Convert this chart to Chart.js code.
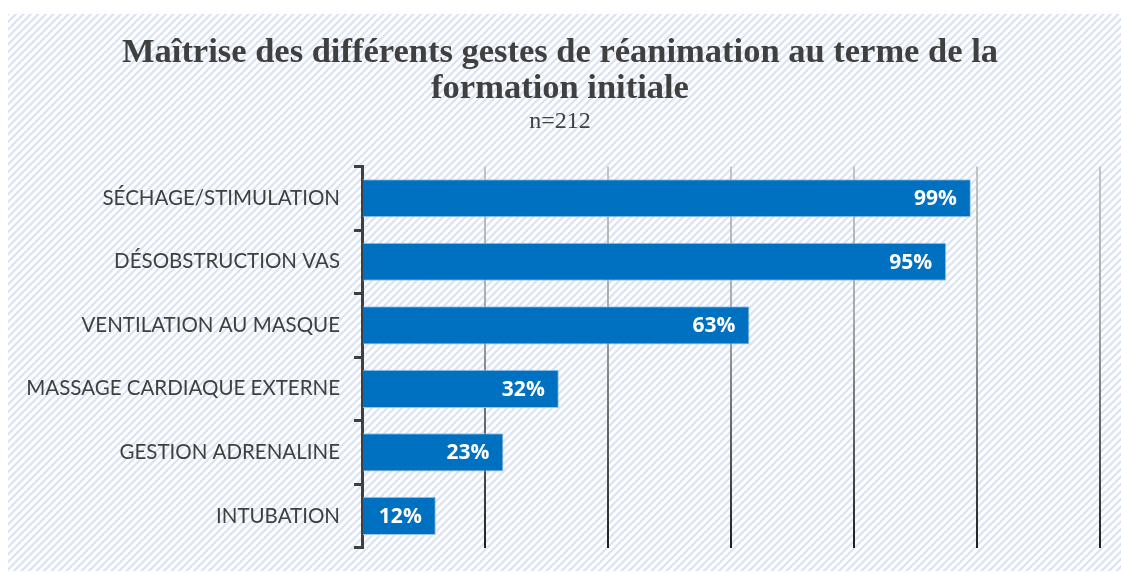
<!DOCTYPE html>
<html>
<head>
<meta charset="utf-8">
<script src="https://cdn.jsdelivr.net/npm/chart.js@4"></script>
<style>
  html, body { margin: 0; padding: 0; background: #fff; }
  #wrap { width: 1121px; height: 574px; }
</style>
</head>
<body>
<div id="wrap"><canvas id="myChart"></canvas></div>
<script>
const categories = [
  "SÉCHAGE/STIMULATION",
  "DÉSOBSTRUCTION VAS",
  "VENTILATION AU MASQUE",
  "MASSAGE CARDIAQUE EXTERNE",
  "GESTION ADRENALINE",
  "INTUBATION",
];
const values = [99, 95, 63, 32, 23, 12];
const titleLines = ["Maîtrise des différents gestes de réanimation au terme de la", "formation initiale"];
const subtitleText = "n=212";

// fond hachuré derrière tout le graphique
const hatchPlugin = {
  id: "hatch",
  beforeDraw(chart) {
    const c = chart.ctx;
    c.save();
    c.fillStyle = "#ffffff";
    c.fillRect(0, 0, chart.width, chart.height);
    c.beginPath();
    c.rect(8, 14, chart.width - 8, chart.height - 17);
    c.clip();
    c.strokeStyle = "#dae3f4";
    c.lineWidth = 2.2;
    for (let x = -chart.height; x < chart.width + chart.height; x += 7.5) {
      c.beginPath();
      c.moveTo(x, chart.height);
      c.lineTo(x + chart.height, 0);
      c.stroke();
    }
    c.restore();
  },
};

// étiquettes blanches dans les barres
const labelPlugin = {
  id: "barLabels",
  afterDatasetsDraw(chart) {
    const c = chart.ctx;
    const meta = chart.getDatasetMeta(0);
    c.save();
    c.fillStyle = "#ffffff";
    c.font = "bold 21px 'Open Sans', sans-serif";
    c.textAlign = "right";
    c.textBaseline = "middle";
    meta.data.forEach((bar, i) => {
      c.fillText(values[i] + "%", bar.x - 14, bar.y + 1);
    });
    c.restore();
  },
};

const ctx = document.getElementById("myChart");

new Chart(ctx, {
  type: "bar",
  data: {
    labels: categories,
    datasets: [
      {
        data: values,
        backgroundColor: "#0070c0",
        borderColor: "#9dc3e6",
        borderWidth: 1,
        categoryPercentage: 1,
        barPercentage: 0.6,
      },
    ],
  },
  plugins: [hatchPlugin, labelPlugin],
  options: {
    indexAxis: "y",
    responsive: true,
    maintainAspectRatio: false,
    animation: false,
    layout: {
      padding: { top: 14, right: 21, bottom: 15, left: 20 },
    },
    plugins: {
      legend: { display: false },
      tooltip: { enabled: false },
      title: {
        display: true,
        text: titleLines,
        color: "#404040",
        font: { family: "'Liberation Serif', serif", size: 34.5, weight: "bold", lineHeight: 1.045 },
        padding: { top: 21, bottom: 1 },
      },
      subtitle: {
        display: true,
        text: subtitleText,
        color: "#404040",
        font: { family: "'Liberation Serif', serif", size: 24, weight: "normal", lineHeight: 1.1 },
        padding: { top: 0, bottom: 32 },
      },
    },
    scales: {
      x: {
        min: 0,
        max: 120,
        ticks: { display: false, stepSize: 20 },
        border: { display: false },
        grid: {
          drawTicks: false,
          lineWidth: 2,
          color: (context) => {
            const area = context.chart.chartArea;
            if (!area) return "#b0b0b0";
            const g = context.chart.ctx.createLinearGradient(0, area.top, 0, area.bottom);
            g.addColorStop(0, "#c4c4c4");
            g.addColorStop(0.4, "#a8a8a8");
            g.addColorStop(1, "#1e1e1e");
            return g;
          },
        },
      },
      y: {
        afterFit: (scale) => {
          scale.width = 342;
        },
        border: { display: true, color: "#404040", width: 3 },
        grid: {
          drawOnChartArea: false,
          drawTicks: true,
          tickLength: 8,
          color: "#404040",
          lineWidth: 3,
        },
        ticks: {
          color: "#404040",
          padding: 14,
          font: { family: "Lato, sans-serif", size: 20.5 },
        },
      },
    },
  },
});
</script>
</body>
</html>
